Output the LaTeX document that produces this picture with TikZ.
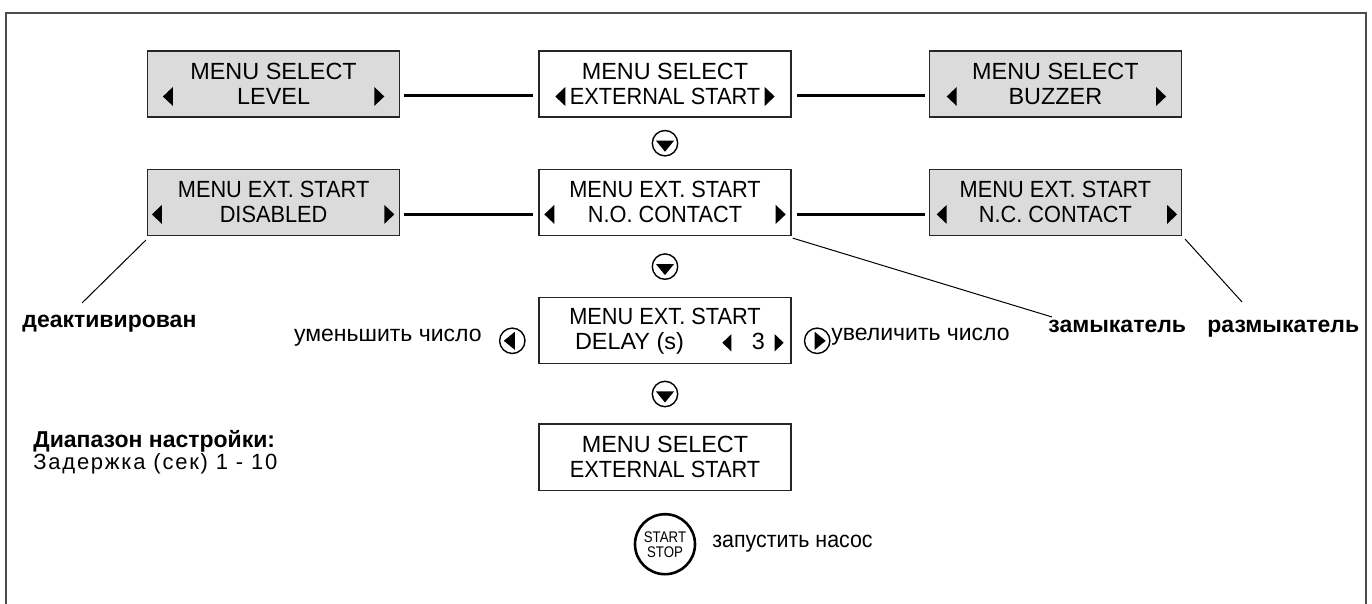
\documentclass[tikz,border=0pt]{standalone}
\usepackage{fontspec}
\setmainfont{Liberation Sans}
\newfontfamily\condfont[FakeStretch=0.93]{Liberation Sans}
\newfontfamily\btnfont[FakeStretch=0.86]{Liberation Sans}
\newfontfamily\spacedfont[LetterSpace=8]{Liberation Sans}
\usetikzlibrary{positioning, calc}

\tikzset{
  menubox/.style={draw=black!85, line width=0.7pt, minimum width=126pt, minimum height=33pt,
    inner sep=0pt, align=center, font=\fontsize{11.7}{12.5}\selectfont},
  greybox/.style={menubox, fill=black!14},
  link/.style={line width=1.5pt},
  leader/.style={line width=0.5pt},
  btn/.style={circle, draw, line width=0.7pt, minimum size=12.7pt, inner sep=0pt},
  downbtn/.style={btn, path picture={\fill ($(path picture bounding box.center)+(-9,-2.5)$) -- ++(18,0) -- ++(-9,11) -- cycle;}},
  leftbtn/.style={btn, path picture={\fill ($(path picture bounding box.center)+(2.5,-9)$) -- ++(0,18) -- ++(-11,-9) -- cycle;}},
  rightbtn/.style={btn, path picture={\fill ($(path picture bounding box.center)+(-2.5,-9)$) -- ++(0,18) -- ++(11,-9) -- cycle;}},
  stopbtn/.style={circle, draw, line width=1.3pt, minimum size=30pt, inner sep=0pt, align=center,
    font=\btnfont\fontsize{7.7}{7.5}\selectfont},
  lbl/.style={inner sep=0pt, font=\fontsize{11.5}{13}\selectfont},
  blbl/.style={inner sep=0pt, font=\fontsize{11.5}{13}\selectfont\bfseries},
  tril/.pic={\fill (0,0) -- (10,-9.5) -- (10,9.5) -- cycle;},
  trir/.pic={\fill (0,0) -- (-10,-9.5) -- (-10,9.5) -- cycle;},
}

\begin{document}
\begin{tikzpicture}[x=0.5pt, y=-0.5pt]
    \useasboundingbox (0,0) rectangle (1372,604);
    % frame, open at the bottom
    \draw[black!70, line width=0.75pt] (6,604) -- (6,13) -- (1366,13) -- (1366,604);

    % menu screens
    \node[menubox] (ext) at (665,84) {MENU SELECT\\{\condfont EXTERNAL START}};
    \node[greybox, left=69pt of ext] (lvl) {MENU SELECT\\LEVEL};
    \node[greybox, right=68.5pt of ext] (buz) {MENU SELECT\\BUZZER};
    \node[menubox, below=25.5pt of ext] (noc) {{\condfont MENU EXT. START}\\{\condfont N.O. CONTACT}};
    \node[greybox, left=69pt of noc] (dis) {{\condfont MENU EXT. START}\\{\condfont DISABLED}};
    \node[greybox, right=68.5pt of noc] (ncc) {{\condfont MENU EXT. START}\\{\condfont N.C. CONTACT}};
    \node[menubox, below=30.5pt of noc] (dly) {{\condfont MENU EXT. START}\\\hspace*{5pt}DELAY (s)\hspace{34pt}3};
    \node[menubox, below=29.5pt of dly] (fin) {MENU SELECT\\{\condfont EXTERNAL START}};

    \draw[link] ($(lvl.east)+(4,12)$) -- ($(ext.west)+(-5,12)$);
    \draw[link] ($(ext.east)+(5,12)$) -- ($(buz.west)+(-4,12)$);
    \draw[link] ($(dis.east)+(4,12)$) -- ($(noc.west)+(-5,12)$);
    \draw[link] ($(noc.east)+(5,12)$) -- ($(ncc.west)+(-4,12)$);

    % arrows inside the screens
    \pic at ($(lvl.west)+(16,12.5)$) {tril};
    \pic at ($(lvl.east)+(-16,12.5)$) {trir};
    \pic at ($(ext.west)+(17,12.5)$) {tril};
    \pic at ($(ext.east)+(-17,12.5)$) {trir};
    \pic at ($(buz.west)+(18,12.5)$) {tril};
    \pic at ($(buz.east)+(-16,12.5)$) {trir};
    \pic at ($(dis.west)+(5,12)$) {tril};
    \pic at ($(dis.east)+(-6,12)$) {trir};
    \pic at ($(noc.west)+(6,12)$) {tril};
    \pic at ($(noc.east)+(-6,12)$) {trir};
    \pic at ($(ncc.west)+(8,12)$) {tril};
    \pic at ($(ncc.east)+(-5,12)$) {trir};
    \pic[scale=0.9] at ($(dly.west)+(184,12)$) {tril};
    \pic[scale=0.9] at ($(dly.east)+(-8,12)$) {trir};

    % keys
    \node[downbtn] (d1) at ($(ext.south)!0.5!(noc.north)$) {};
    \node[downbtn] (d2) at ($(noc.south)!0.5!(dly.north)$) {};
    \node[downbtn] (d3) at ($(dly.south)!0.5!(fin.north)$) {};
    \node[leftbtn] (dec) at ($(dly.west)+(-26,10)$) {};
    \node[rightbtn] (inc) at ($(dly.east)+(25.5,10)$) {};
    \node[stopbtn, below=11pt of fin] (ss) {START\\STOP};

    % labels
    \node[lbl, anchor=base east] (less) at (482,342) {уменьшить число};
    \node[lbl, anchor=base west] (more) at (831,341) {увеличить число};
    \node[lbl, anchor=base west, font=\condfont\fontsize{11.5}{13}\selectfont] (run) at (712,547) {запустить насос};
    \node[blbl, anchor=base west] (deakt) at (22,328) {деактивирован};
    \node[blbl, anchor=base west] (zam) at (1048,333) {замыкатель};
    \node[blbl, anchor=base west] (razm) at (1207,333) {размыкатель};
    \node[blbl, anchor=base west] (range) at (33,447) {Диапазон настройки:};
    \node[lbl, anchor=base west, font=\spacedfont\fontsize{11}{13}\selectfont] (delay) at (33,470) {Задержка (сек) 1 - 10};

    % leader lines
    \coordinate (deakt-end) at (82,303);
    \coordinate (zam-end) at (1052,317);
    \coordinate (razm-end) at (1242,302);
    \draw[leader] ($(dis.south west)+(-1,4)$) -- (deakt-end);
    \draw[leader] ($(noc.south east)+(1,2)$) -- (zam-end);
    \draw[leader] ($(ncc.south east)+(3,3)$) -- (razm-end);
\end{tikzpicture}
\end{document}
